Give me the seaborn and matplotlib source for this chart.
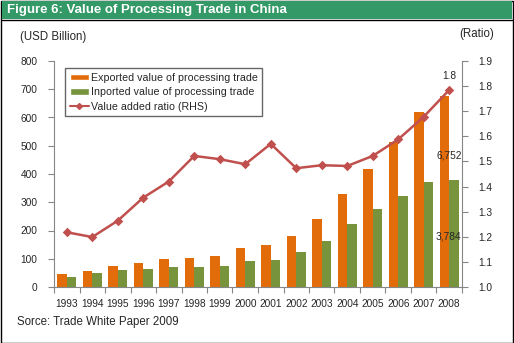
import matplotlib
matplotlib.use("Agg")
import matplotlib.pyplot as plt
import seaborn as sns
import pandas as pd
from matplotlib.patches import Rectangle, Patch
from matplotlib.lines import Line2D

years = [str(y) for y in range(1993, 2009)]
exports = [46, 56, 74, 84, 99, 104, 110, 138, 147, 179, 242, 329, 418, 514, 619, 675.2]
imports = [36, 48, 60, 64, 71, 70, 74, 93, 95, 124, 164, 223, 275, 322, 371, 378.4]
ratio = [1.218, 1.199, 1.264, 1.356, 1.42, 1.522, 1.509, 1.489, 1.570, 1.473,
         1.485, 1.482, 1.522, 1.588, 1.678, 1.785]
series_names = ["Exported value of processing trade", "Inported value of processing trade"]
ratio_name = "Value added ratio (RHS)"
left_ticks = [0, 100, 200, 300, 400, 500, 600, 700, 800]
right_ticks = [1.0, 1.1, 1.2, 1.3, 1.4, 1.5, 1.6, 1.7, 1.8, 1.9]

sns.set_style("white")
plt.rcParams['font.family'] = ['Liberation Sans', 'DejaVu Sans']

c_exp = "#E36C0A"
c_imp = "#77933C"
c_line = "#C0504D"
c_spine = "#868686"

df = pd.DataFrame({
    "year": years * 2,
    "value": exports + imports,
    "series": [series_names[0]] * len(years) + [series_names[1]] * len(years),
})
df_ratio = pd.DataFrame({"year": years, "ratio": ratio})

fig = plt.figure(figsize=(5.14, 3.43), dpi=100)
ax = fig.add_axes([54 / 514, 1 - 287 / 343, (462 - 54) / 514, (287 - 61) / 343])

sns.barplot(data=df, x="year", y="value", hue="series", order=years,
            palette=[c_exp, c_imp], width=0.76, gap=0, saturation=1,
            edgecolor="none", ax=ax, legend=False)
ax.set_xlim(-0.5, len(years) - 0.5)
ax.set_ylim(0, 800)
ax.set_yticks(left_ticks)
ax.set_xlabel("")
ax.set_ylabel("")

ax2 = ax.twinx()
sns.pointplot(data=df_ratio, x="year", y="ratio", order=years, color=c_line,
              markers="D", markersize=3.5, linewidth=1.8, ax=ax2)
ax2.set_xlim(-0.5, len(years) - 0.5)
ax2.set_ylim(1.0, 1.9)
ax2.set_yticks(right_ticks)
ax2.set_yticklabels([f"{t:.1f}" for t in right_ticks])
ax2.set_ylabel("")
ax2.set_xlabel("")

for a in (ax, ax2):
    a.spines["top"].set_visible(False)
    for s in ("left", "right", "bottom"):
        a.spines[s].set_color(c_spine)
        a.spines[s].set_linewidth(0.8)
ax.spines["right"].set_visible(False)
ax2.spines["left"].set_visible(False)
ax2.spines["bottom"].set_visible(False)

ax.tick_params(axis="y", which="both", left=True, length=4, width=0.8, color=c_spine,
               labelsize=7.3, pad=8)
ax.tick_params(axis="x", bottom=False, labelsize=7.3, pad=5)
ax.set_xticks(range(len(years)))
ax.set_xticklabels(years)
ax.set_xticks([i - 0.5 for i in range(len(years) + 1)], minor=True)
ax.tick_params(axis="x", which="minor", bottom=True, length=4, width=0.8, color=c_spine)
ax2.tick_params(axis="y", right=True, length=4, width=0.8, color=c_spine,
                labelsize=7.3, pad=8)

# annotations
ax2.text(len(years) - 1, ratio[-1] + 0.035, f"{ratio[-1]:.1f}", ha="center",
         va="bottom", fontsize=7.3)
ax.text(len(years) - 0.52, 467, "6,752", ha="right", va="center", fontsize=7.3)
ax.text(len(years) - 0.52, 178, "3,784", ha="right", va="center", fontsize=7.3)

# legend
handles = [Patch(facecolor=c_exp, label=series_names[0]),
           Patch(facecolor=c_imp, label=series_names[1]),
           Line2D([0], [0], color=c_line, marker="D", markersize=3, lw=1.5, label=ratio_name)]
leg = ax.legend(handles=handles, loc="upper left", bbox_to_anchor=(0.027, 0.968),
                fontsize=7.7, frameon=True, fancybox=False, handlelength=1.8,
                handleheight=0.55, handletextpad=0.15, labelspacing=0.4,
                borderpad=0.45, borderaxespad=0)
leg.get_frame().set_edgecolor("#404040")
leg.get_frame().set_linewidth(1.0)
leg.set_zorder(5)

# frame, title bar and texts
fig.patches.append(Rectangle((0.5 / 514, 0.5 / 343), 512.5 / 514, 341.5 / 343,
                             transform=fig.transFigure, fill=False,
                             edgecolor="black", linewidth=1.0, zorder=0))
fig.patches.append(Rectangle((2 / 514, 1 - 19 / 343), 510 / 514, 18 / 343,
                             transform=fig.transFigure, facecolor="#339966",
                             edgecolor="none", zorder=1))
fig.add_artist(Line2D([2 / 514, 512 / 514], [1 - 19.5 / 343] * 2,
                      transform=fig.transFigure, color="black", lw=1.0))
fig.text(7 / 514, 1 - 10 / 343, "Figure 6: Value of Processing Trade in China",
         color="white", fontsize=9.5, fontweight="bold", va="center", ha="left")
fig.text(20 / 514, 1 - 37 / 343, "(USD Billion)", fontsize=8.3, va="center", ha="left")
fig.text(494 / 514, 1 - 34 / 343, "(Ratio)", fontsize=8.3, va="center", ha="right")
fig.text(17 / 514, 1 - 322 / 343, "Sorce: Trade White Paper 2009", fontsize=8.3,
         va="center", ha="left")

fig.savefig("out.png", dpi=100)
